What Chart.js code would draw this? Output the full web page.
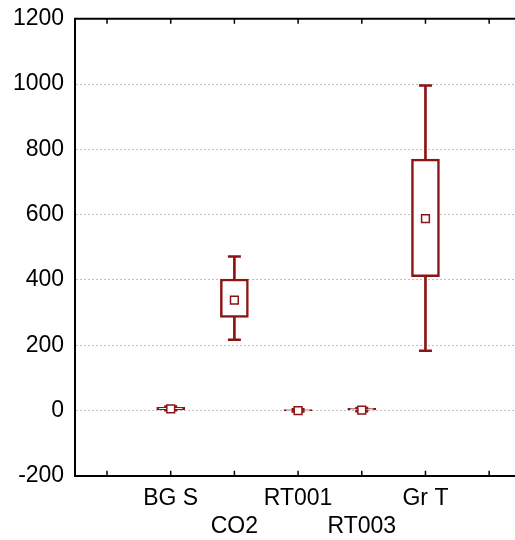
<!DOCTYPE html>
<html>
<head>
<meta charset="utf-8">
<script src="https://cdn.jsdelivr.net/npm/chart.js@4/dist/chart.umd.min.js"></script>
<style>
  html, body { margin: 0; padding: 0; background: #fff; overflow: hidden; }
  #wrap { position: relative; left: -10px; top: -6px; width: 540px; height: 555px; }
</style>
</head>
<body>
<div id="wrap"><canvas id="box"></canvas></div>
<script>
// box plot data
const categories = ['BG S', 'CO2', 'RT001', 'RT003', 'Gr T'];
const minVals  = [1, 217, -3, -2, 183];
const q1Vals   = [2, 285, -1, 0, 410];
const q3Vals   = [10, 403, 3, 7, 770];
const maxVals  = [12, 472, 4, 8, 996];
const meanVals = [5, 338, 0, 1, 588];
const yTicks = [-200, 0, 200, 400, 600, 800, 1000, 1200];

const red = '#8c1414';

// one empty slot at each end, labels staggered on two rows
const pad = arr => [null, ...arr, null];
const labels = ['', ...categories.map((c, i) => i % 2 ? ['', c] : [c]), ''];

const frame = {
    id: 'frame',
    afterDraw(chart) {
        const {ctx, chartArea: a, scales: {x}} = chart;
        ctx.save();
        ctx.strokeStyle = '#000';
        ctx.lineWidth = 2;
        ctx.beginPath();
        ctx.moveTo(a.left - 1, a.top);
        ctx.lineTo(a.right, a.top);
        ctx.stroke();
        ctx.lineWidth = 1.5;
        x.ticks.forEach((t, i) => {
            const px = x.getPixelForTick(i);
            ctx.beginPath();
            ctx.moveTo(px, a.top);
            ctx.lineTo(px, a.top + 5);
            ctx.moveTo(px, a.bottom);
            ctx.lineTo(px, a.bottom - 5);
            ctx.stroke();
        });
        ctx.restore();
    }
};

new Chart(document.getElementById('box').getContext('2d'), {
    data: {
        labels: labels,
        datasets: [
            {
                type: 'line', data: pad(meanVals), showLine: false, order: 0,
                pointStyle: 'rect', radius: 5.5, borderWidth: 1.5,
                borderColor: red, backgroundColor: '#fff'
            },
            {
                type: 'line', data: pad(maxVals), showLine: false, order: 1,
                pointStyle: 'line', radius: 6.5, borderWidth: 2.5, borderColor: red
            },
            {
                type: 'line', data: pad(minVals), showLine: false, order: 1,
                pointStyle: 'line', radius: 6.5, borderWidth: 2.5, borderColor: red
            },
            {
                type: 'bar', data: pad(q1Vals.map((v, i) => [v, q3Vals[i]])), order: 2,
                grouped: false, barThickness: 28, backgroundColor: '#fff',
                borderColor: red, borderWidth: 2.5, borderSkipped: false
            },
            {
                type: 'bar', data: pad(minVals.map((v, i) => [v, maxVals[i]])), order: 3,
                grouped: false, barThickness: 2, backgroundColor: red, borderWidth: 0
            }
        ]
    },
    options: {
        responsive: true,
        maintainAspectRatio: false,
        animation: false,
        layout: { padding: { left: 12, top: 12, right: 3, bottom: 0 } },
        plugins: { legend: { display: false }, tooltip: { enabled: false } },
        scales: {
            x: {
                type: 'category',
                offset: true,
                grid: { display: true, color: 'rgba(0,0,0,0)', drawTicks: false },
                border: { display: true, color: '#000', width: 2 },
                ticks: {
                    autoSkip: false, maxRotation: 0, padding: 9, color: '#000',
                    font: { family: 'Liberation Sans, Arial, sans-serif', size: 23 }
                }
            },
            y: {
                min: -200, max: 1200,
                afterBuildTicks: s => { s.ticks = yTicks.map(v => ({ value: v })); },
                grid: {
                    drawTicks: false,
                    color: c => (c.tick && c.tick.value > -200 && c.tick.value < 1200) ? '#c0c0c0' : 'rgba(0,0,0,0)'
                },
                border: { display: true, color: '#000', width: 2, dash: [2, 2] },
                ticks: {
                    padding: 11, color: '#000',
                    callback: v => String(v),
                    font: { family: 'Liberation Sans, Arial, sans-serif', size: 23 }
                }
            }
        }
    },
    plugins: [frame]
});
</script>
</body>
</html>
